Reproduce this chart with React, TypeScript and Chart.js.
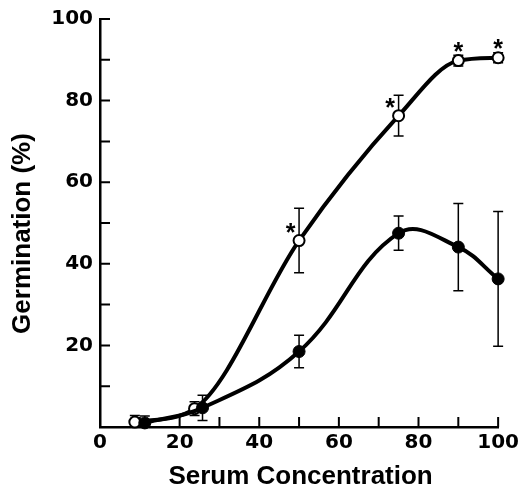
import React, { useEffect, useRef } from 'react';
import { Chart, registerables } from 'chart.js';

Chart.register(...registerables);

// Open circles (upper curve)
const openX = [8.75, 23.75, 50, 75, 90, 100];
const openY = [1.2, 4.5, 45.7, 76.3, 89.8, 90.5];
const openErr = [1.6, 1.7, 7.9, 5.0, 1.3, 1.2];
const openStar = ['', '', 'left', 'left', 'top', 'top'];

// Filled circles (lower curve)
const filledX = [11.25, 25.75, 50, 75, 90, 100];
const filledY = [1.0, 4.7, 18.5, 47.5, 44.1, 36.3];
const filledErr = [1.7, 3.1, 4.0, 4.2, 10.7, 16.5];

const xLabelValues = [0, 20, 40, 60, 80, 100];
const yLabelValues = [20, 40, 60, 80, 100];
const xTitle = 'Serum Concentration';
const yTitle = 'Germination (%)';

const TICK_FONT = { family: '"DejaVu Sans", sans-serif', weight: 'bold' as const, size: 20 };

export default function App() {
  const ref = useRef<HTMLCanvasElement>(null);

  useEffect(() => {
    const canvas = ref.current!;

    const errorBars = {
      id: 'errorBars',
      beforeDatasetsDraw(chart: any) {
        const { ctx, scales } = chart;
        const x = scales.x, y = scales.y;
        ctx.save();
        ctx.strokeStyle = '#000';
        ctx.lineWidth = 1.5;
        const sets: [number[], number[], number[]][] = [
          [openX, openY, openErr],
          [filledX, filledY, filledErr],
        ];
        for (const [xs, ys, es] of sets) {
          xs.forEach((xv, i) => {
            const px = x.getPixelForValue(xv);
            const top = y.getPixelForValue(ys[i] + es[i]);
            const bot = y.getPixelForValue(Math.max(0, ys[i] - es[i]));
            ctx.beginPath();
            ctx.moveTo(px, top);
            ctx.lineTo(px, bot);
            ctx.moveTo(px - 5, top);
            ctx.lineTo(px + 5, top);
            ctx.moveTo(px - 5, bot);
            ctx.lineTo(px + 5, bot);
            ctx.stroke();
          });
        }
        ctx.restore();
      },
    };

    const innerTicks = {
      id: 'innerTicks',
      beforeDatasetsDraw(chart: any) {
        const { ctx, chartArea, scales } = chart;
        const x = scales.x, y = scales.y;
        ctx.save();
        ctx.strokeStyle = '#000';
        ctx.lineWidth = 2;
        ctx.beginPath();
        x.ticks.forEach((t: any) => {
          if (t.value === 0) return;
          const px = x.getPixelForValue(t.value);
          ctx.moveTo(px, chartArea.bottom);
          ctx.lineTo(px, chartArea.bottom - 10);
        });
        y.ticks.forEach((t: any) => {
          if (t.value === 0) return;
          const py = y.getPixelForValue(t.value);
          ctx.moveTo(chartArea.left, py);
          ctx.lineTo(chartArea.left + 10, py);
        });
        ctx.stroke();
        ctx.restore();
      },
    };

    const stars = {
      id: 'stars',
      afterDatasetsDraw(chart: any) {
        const { ctx, scales } = chart;
        const x = scales.x, y = scales.y;
        ctx.save();
        ctx.fillStyle = '#000';
        ctx.font = 'bold 25px "Liberation Sans", Arial, sans-serif';
        ctx.textAlign = 'center';
        ctx.textBaseline = 'alphabetic';
        const m = ctx.measureText('*');
        const dy = (m.actualBoundingBoxAscent - m.actualBoundingBoxDescent) / 2;
        openStar.forEach((s, i) => {
          if (!s) return;
          const px = x.getPixelForValue(openX[i]);
          const py = y.getPixelForValue(openY[i]);
          const cx = s === 'left' ? px - 8.5 : px;
          const cy = s === 'left' ? py - 13 : py - 14;
          ctx.fillText('*', cx, cy + dy);
        });
        ctx.restore();
      },
    };

    const titles = {
      id: 'axisTitles',
      afterDraw(chart: any) {
        const { ctx, chartArea: a } = chart;
        ctx.save();
        ctx.fillStyle = '#000';
        ctx.font = 'bold 26px "Liberation Sans", Arial, sans-serif';
        ctx.textAlign = 'center';
        ctx.textBaseline = 'middle';
        ctx.fillText(xTitle, (a.left + a.right) / 2 + 1.5, a.bottom + 50);
        ctx.translate(22.5, (a.top + a.bottom) / 2 + 10.5);
        ctx.rotate(-Math.PI / 2);
        ctx.fillText(yTitle, 0, 0);
        ctx.restore();
      },
    };

    const toPts = (xs: number[], ys: number[]) => xs.map((xv, i) => ({ x: xv, y: ys[i] }));

    const chart = new Chart(canvas, {
      type: 'scatter',
      data: {
        datasets: [
          {
            label: 'filled',
            data: toPts(filledX, filledY),
            showLine: true,
            tension: 0.4,
            borderColor: '#000',
            borderWidth: 4,
            pointRadius: 6,
            pointBackgroundColor: '#000',
            pointBorderColor: '#000',
            pointBorderWidth: 1,
            clip: false,
          } as any,
          {
            label: 'open',
            data: toPts(openX, openY),
            showLine: true,
            cubicInterpolationMode: 'monotone',
            borderColor: '#000',
            borderWidth: 4,
            pointRadius: 5.5,
            pointBackgroundColor: '#fff',
            pointBorderColor: '#000',
            pointBorderWidth: 2,
            clip: false,
          } as any,
        ],
      },
      options: {
        responsive: false,
        animation: false,
        devicePixelRatio: 1,
        layout: { padding: { top: 16, right: 23, left: 0, bottom: 0 } },
        plugins: {
          legend: { display: false },
          tooltip: { enabled: false },
        },
        events: [],
        scales: {
          x: {
            type: 'linear',
            min: 0,
            max: 100,
            afterFit: (s: any) => { s.height = 62; },
            grid: { display: true, drawOnChartArea: false, drawTicks: false },
            border: { display: true, color: '#000', width: 2.5 },
            ticks: {
              stepSize: 10,
              autoSkip: false,
              maxRotation: 0,
              padding: 4,
              color: '#000',
              font: TICK_FONT,
              callback: (v: any) => (xLabelValues.includes(Number(v)) ? String(v) : ''),
            },
          },
          y: {
            type: 'linear',
            min: 0,
            max: 100,
            afterFit: (s: any) => { s.width = 100; },
            grid: { display: true, drawOnChartArea: false, drawTicks: false },
            border: { display: true, color: '#000', width: 2.5 },
            ticks: {
              stepSize: 10,
              autoSkip: false,
              padding: 7,
              color: '#000',
              font: TICK_FONT,
              callback: (v: any) => (yLabelValues.includes(Number(v)) ? String(v) : ''),
            },
          },
        },
      } as any,
      plugins: [innerTicks, errorBars, stars, titles],
    });

    return () => chart.destroy();
  }, []);

  return (
    <div style={{ position: 'fixed', left: 0, top: 0, width: 523, height: 489, background: '#fff' }}>
      <canvas ref={ref} width={523} height={489} style={{ display: 'block' }} />
    </div>
  );
}
